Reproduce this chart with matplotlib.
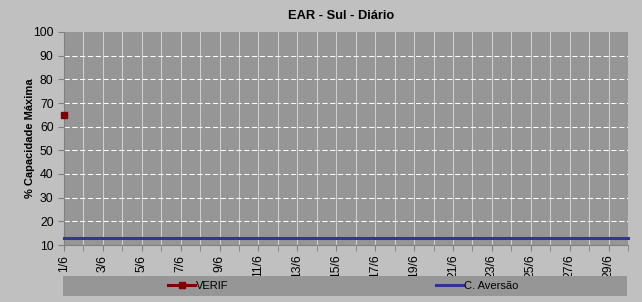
import matplotlib
matplotlib.use("Agg")
import matplotlib.pyplot as plt
import numpy as np
from matplotlib.lines import Line2D

plt.rcParams['font.family'] = ['Liberation Sans', 'DejaVu Sans']

# data
days = list(range(1, 31))
day_labels = ["%d/6" % d for d in days]
verif = [65.0] + [None] * 29
aversao = [12.8] * 30

bg = '#C0C0C0'
area = '#969696'

fig = plt.figure(figsize=(6.42, 3.02), dpi=100, facecolor=bg)
W, H = 642, 302
ax = fig.add_axes([64 / W, (H - 245) / H, (628 - 64) / W, (245 - 32) / H])
ax.set_facecolor(area)

verif_arr = np.array([np.nan if v is None else v for v in verif])
ax.plot(days, aversao, color='#333399', lw=2.2, clip_on=False, zorder=3)
ax.plot(days, verif_arr, color='#800000', lw=2.2, marker='s', markersize=4,
        clip_on=False, zorder=4)

ax.set_xlim(1, 30)
ax.set_ylim(10, 100)
ax.set_yticks(range(10, 101, 10))
ax.set_xticks(days, minor=True)
ax.set_xticks(days[::2])
ax.set_xticklabels(day_labels[::2], rotation=90)
ax.tick_params(axis='both', which='both', direction='out', length=4,
               color='#808080', labelsize=8.8, labelcolor='black')
ax.tick_params(axis='x', pad=3)

for d in days[1:]:
    ax.axvline(d, color='#D0D0D0', lw=0.75, zorder=1)
for v in range(20, 100, 10):
    ax.axhline(v, color='white', lw=0.75, ls=(0, (5, 2.5)), zorder=1)

for s in ['top', 'right']:
    ax.spines[s].set_visible(False)
for s in ['left', 'bottom']:
    ax.spines[s].set_color('#808080')

fig.text(341 / W, 1 - 16 / H, 'EAR - Sul - Diário', ha='center', va='center',
         fontsize=9.3, fontweight='bold')
fig.text(30 / W, 1 - 138 / H, '% Capacidade Máxima', ha='center', va='center',
         rotation=90, fontsize=8, fontweight='bold')

# legend strip
lax = fig.add_axes([63 / W, (H - 296) / H, (627 - 63) / W, 20 / H])
lax.set_facecolor(area)
lax.set_xticks([])
lax.set_yticks([])
for s in lax.spines.values():
    s.set_visible(False)

h1 = Line2D([], [], color='#800000', lw=2.2, marker='s', markersize=4)
h2 = Line2D([], [], color='#333399', lw=2.2)
leg1 = lax.legend([h1], ['VERIF'], loc='center', bbox_to_anchor=(0.24, 0.5),
                  frameon=False, fontsize=8, handlelength=2.4, handletextpad=0.1)
lax.add_artist(leg1)
lax.legend([h2], ['C. Aversão'], loc='center', bbox_to_anchor=(0.735, 0.5),
           frameon=False, fontsize=8, handlelength=2.4, handletextpad=0.1)

fig.savefig('out.png', dpi=100, facecolor=bg)
